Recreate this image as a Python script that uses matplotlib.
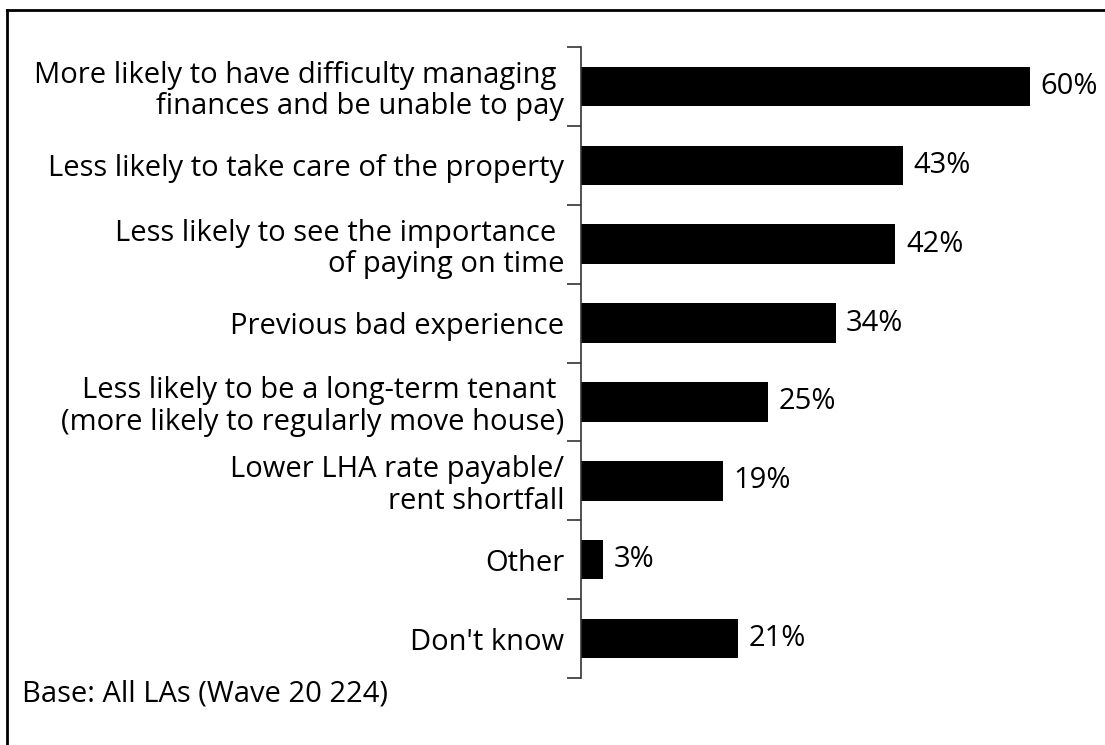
import numpy as np
import matplotlib.pyplot as plt
from matplotlib.lines import Line2D

labels = [
    "More likely to have difficulty managing \nfinances and be unable to pay",
    "Less likely to take care of the property",
    "Less likely to see the importance \nof paying on time",
    "Previous bad experience",
    "Less likely to be a long-term tenant \n(more likely to regularly move house)",
    "Lower LHA rate payable/\nrent shortfall",
    "Other",
    "Don't know",
]
values = [60, 43, 42, 34, 25, 19, 3, 21]
base_note = "Base: All LAs (Wave 20 224)"

plt.rcParams['font.family'] = ['Open Sans', 'DejaVu Sans']
fs = 21

W, H = 1105, 745
fig = plt.figure(figsize=(W / 100, H / 100), dpi=100)
# axes: left edge on the axis line, top/bottom on the outer ticks
ax = fig.add_axes([581 / W, 1 - 678 / H, 1 - 581 / W, (678 - 47) / H])

y = np.arange(len(values))
ax.barh(y, values, height=0.5, color='black')
ax.set_ylim(len(values) - 0.5, -0.5)
ax.set_xlim(0, 70)

for yi, v in zip(y, values):
    ax.text(v + 1.4, yi, f"{v}%", va='center', ha='left', fontsize=fs)

ax.set_yticks(y)
ax.set_yticklabels(labels, fontsize=fs, ha='right', linespacing=1.1)
ax.tick_params(axis='y', which='major', length=0, pad=12)
ax.set_yticks(np.arange(-0.5, len(values)), minor=True)
ax.tick_params(axis='y', which='minor', length=10, width=1.2, color='#333333')
ax.set_xticks([])

for s in ['top', 'right', 'bottom']:
    ax.spines[s].set_visible(False)
ax.spines['left'].set_linewidth(1.2)
ax.spines['left'].set_color('#333333')

fig.text(22 / W, 1 - 694 / H, base_note, fontsize=fs, va='center', ha='left')

# frame round the picture (only top and left visible)
fig.add_artist(Line2D([7 / W, 1], [1 - 10 / H, 1 - 10 / H], color='black', lw=2, transform=fig.transFigure))
fig.add_artist(Line2D([7 / W, 7 / W], [0, 1 - 10 / H], color='black', lw=2, transform=fig.transFigure))

fig.savefig('out.png', dpi=100)
